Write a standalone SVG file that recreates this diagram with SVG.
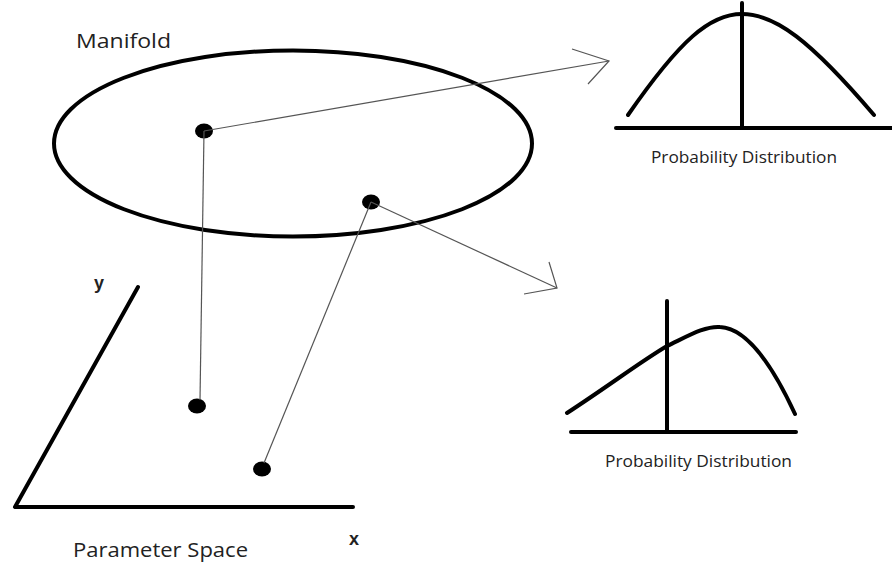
<svg xmlns="http://www.w3.org/2000/svg" width="892" height="564" viewBox="0 0 892 564">
<style>
.thick{fill:none;stroke:#000;stroke-width:4;stroke-linecap:round;stroke-linejoin:round}
.conn{fill:none;stroke:#555;stroke-width:1.2}
.dot{fill:#000}
.lbl{font-family:"Open Sans","Liberation Sans",sans-serif;fill:#222}
.axl{font-family:"Liberation Sans",sans-serif;font-weight:bold;fill:#222;font-size:18px}
</style>
<rect width="892" height="564" fill="#fff"/>
<g id="manifold">
<ellipse cx="293" cy="143.5" rx="239" ry="93" class="thick"/>
<text x="76" y="48" class="lbl" font-size="20" textLength="95" lengthAdjust="spacingAndGlyphs">Manifold</text>
</g>
<g id="parameter-space">
<polyline points="138,287 15,507 353,507" class="thick"/>
<text x="94" y="289" class="axl">y</text>
<text x="349" y="545" class="axl">x</text>
<text x="73" y="557" class="lbl" font-size="20" textLength="175" lengthAdjust="spacingAndGlyphs">Parameter Space</text>
</g>
<g id="dist-top">
<line x1="616" y1="128" x2="892" y2="128" class="thick" stroke-linecap="butt"/>
<line x1="742" y1="3" x2="742" y2="128" class="thick" stroke-linecap="butt"/>
<path d="M628,115 C680,40 710,14 742,14 C775,14 810,40 874,115" class="thick"/>
<text x="651" y="163" class="lbl" font-size="16" textLength="186" lengthAdjust="spacingAndGlyphs">Probability Distribution</text>
</g>
<g id="dist-bottom">
<line x1="571" y1="432" x2="796" y2="432" class="thick" stroke-linecap="butt"/>
<line x1="667" y1="301" x2="667" y2="432" class="thick" stroke-linecap="butt"/>
<path d="M567,413 C610,385 640,362 667,346 C690,335 705,326 720,327 C745,328 770,360 795,414" class="thick"/>
<text x="605" y="467" class="lbl" font-size="16" textLength="187" lengthAdjust="spacingAndGlyphs">Probability Distribution</text>
</g>
<g id="points">
<ellipse cx="204" cy="131" rx="9" ry="7.5" class="dot"/>
<ellipse cx="371" cy="202" rx="9" ry="7.5" class="dot"/>
<ellipse cx="197" cy="406" rx="9" ry="7.5" class="dot"/>
<ellipse cx="262" cy="469" rx="9" ry="7.5" class="dot"/>
</g>
<g id="connectors">
<line x1="204" y1="131" x2="200" y2="400" class="conn"/>
<line x1="371" y1="202" x2="264" y2="463" class="conn"/>
<line x1="204" y1="131" x2="609" y2="61" class="conn"/>
<polyline points="572,49 609,61 588,84" class="conn"/>
<line x1="371" y1="202" x2="557" y2="288" class="conn"/>
<polyline points="549,262 557,288 524,294" class="conn"/>
</g>
</svg>
